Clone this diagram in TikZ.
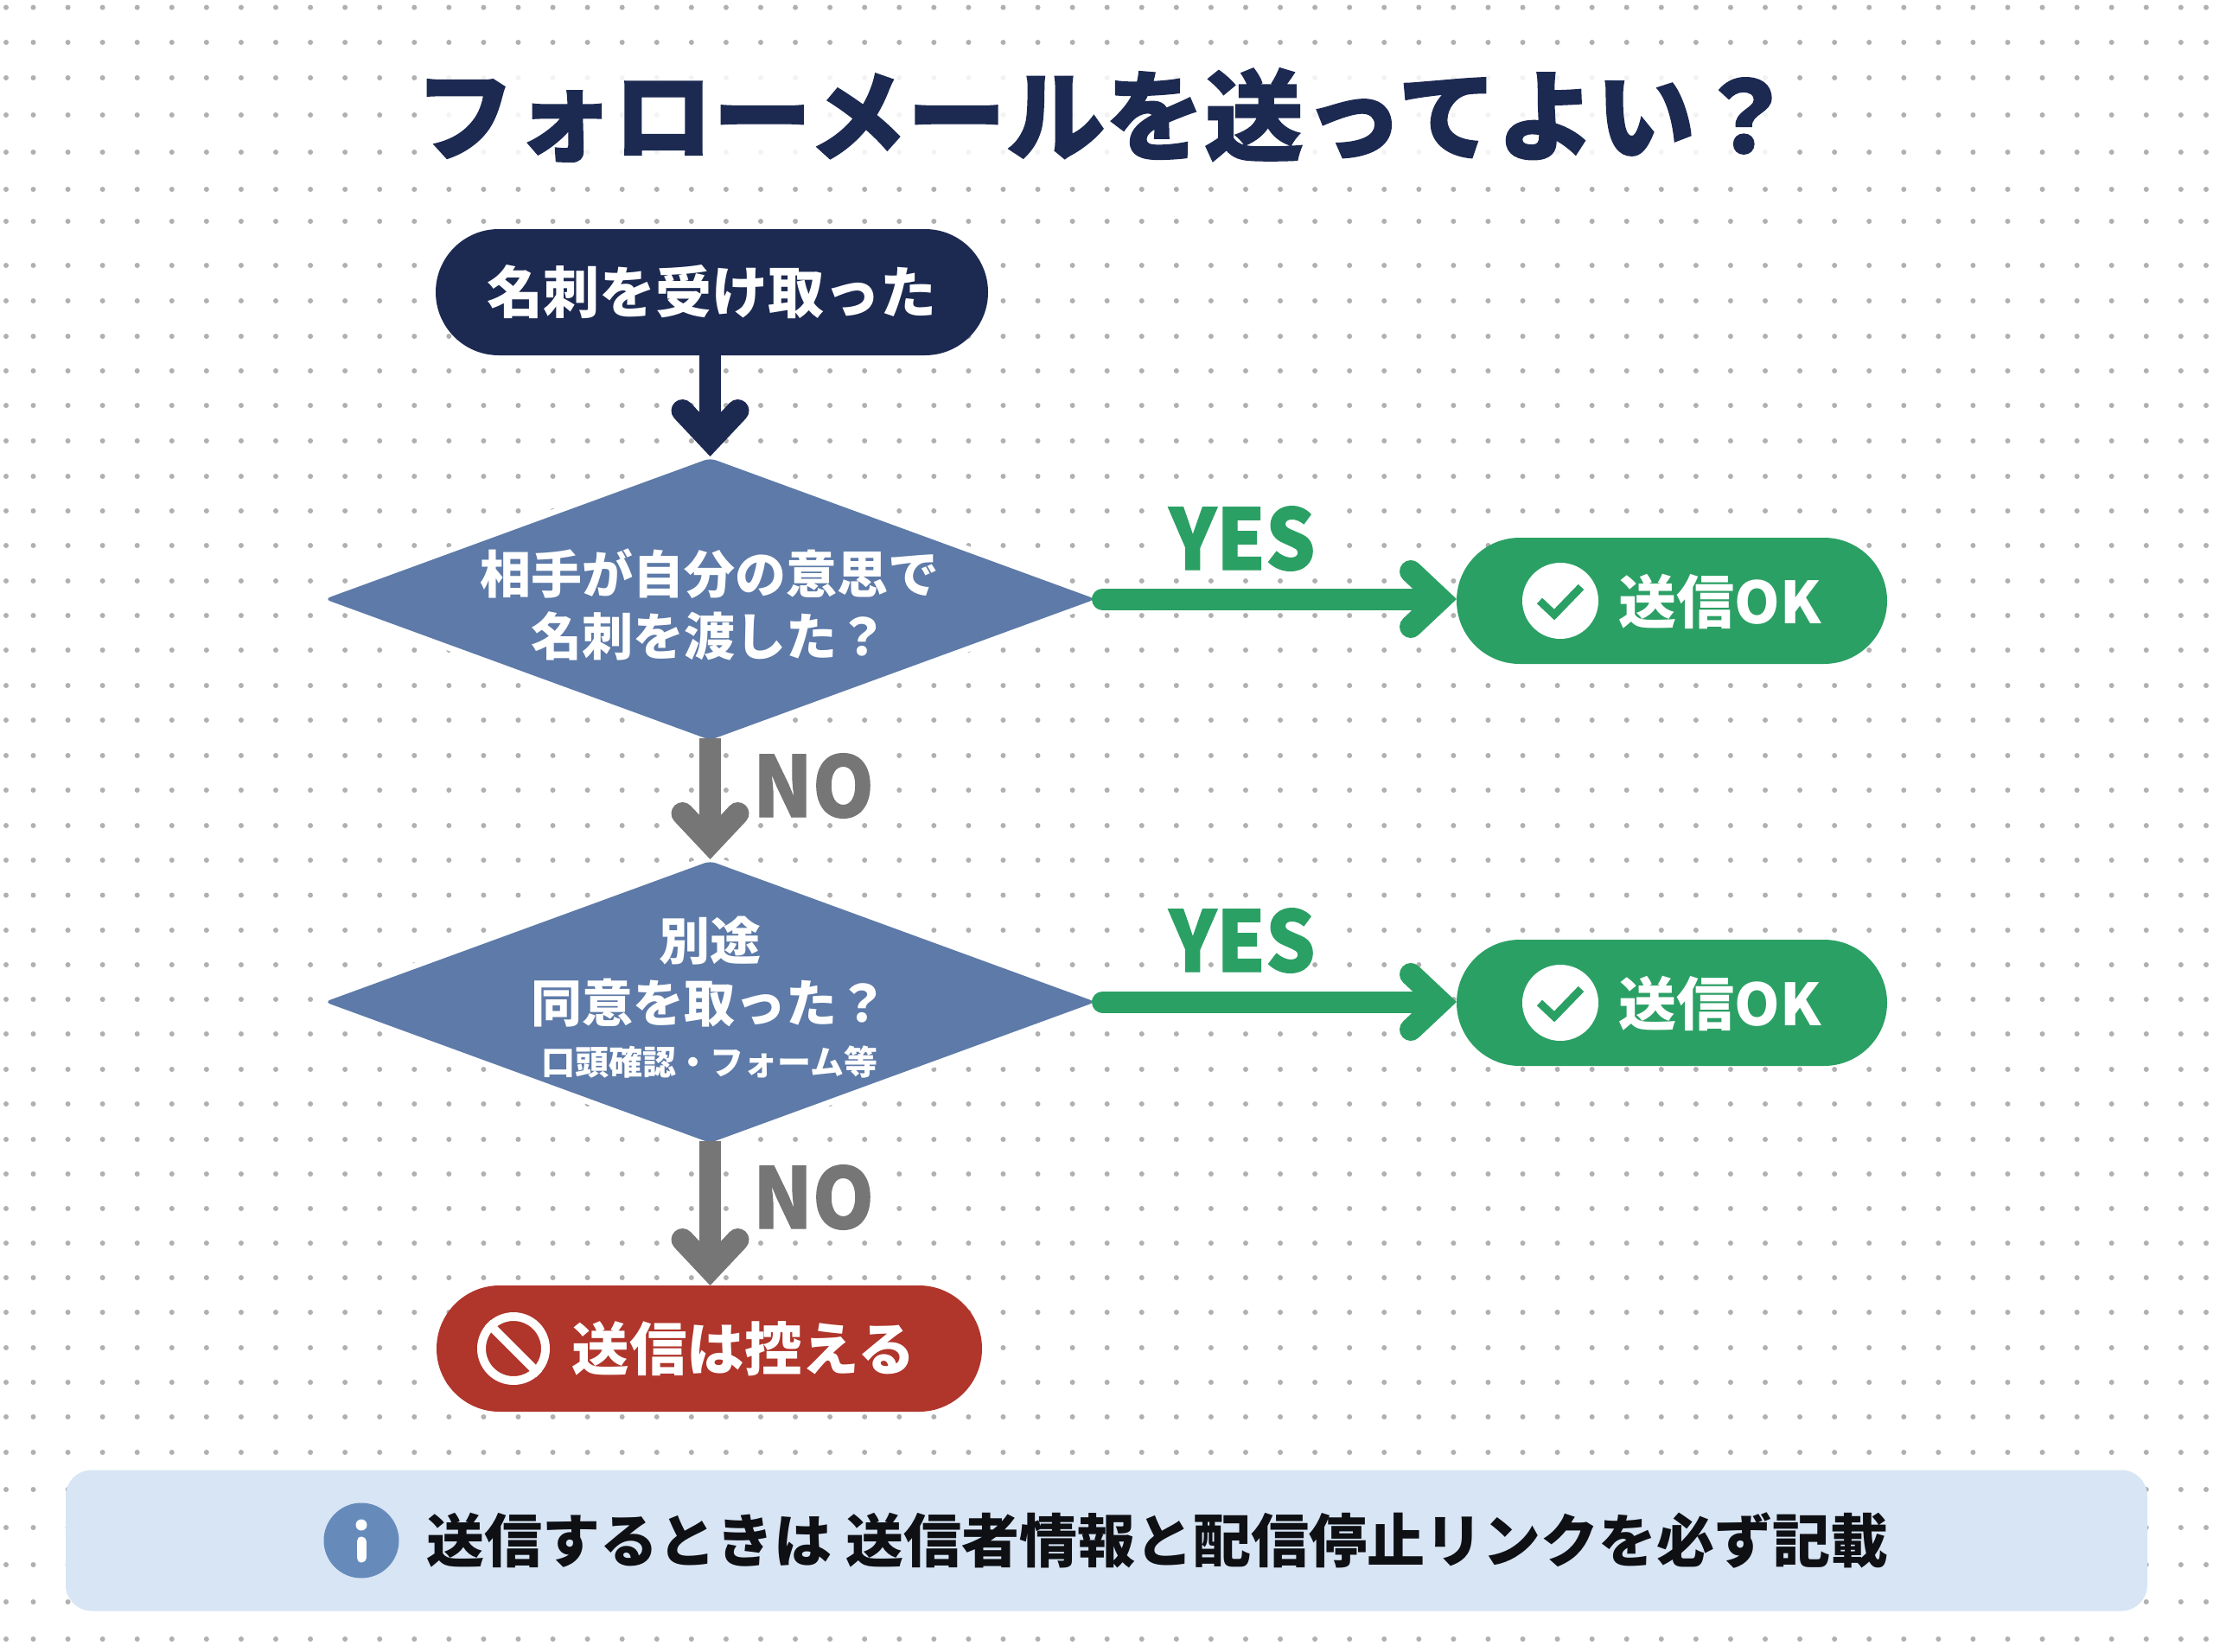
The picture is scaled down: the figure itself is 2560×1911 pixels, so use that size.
\documentclass[tikz,border=0pt]{standalone}
\usepackage{fontspec}
\usetikzlibrary{shapes.geometric,shapes.misc,arrows.meta}
\setmainfont{Noto Sans CJK JP}
\newfontfamily\heavyfont[BoldFeatures={FakeBold=1.2}]{Noto Sans CJK JP}
\newcommand{\fsz}[1]{\fontsize{#1pt}{#1pt}\selectfont\bfseries}
\definecolor{navy}{HTML}{1C2A52}
\definecolor{dia}{HTML}{5D7AA8}
\definecolor{okg}{HTML}{2BA064}
\definecolor{stopr}{HTML}{B0352B}
\definecolor{gry}{HTML}{767676}
\definecolor{band}{HTML}{D7E5F5}
\definecolor{infob}{HTML}{668BBB}
\definecolor{inkk}{HTML}{0F1014}
\definecolor{dotc}{HTML}{B0B0B0}
\pgfdeclarearrow{
  name=Chev,
  setup code={
    \pgfarrowssettipend{0pt}
    \pgfarrowssetlineend{-22pt}
    \pgfarrowssetvisualbackend{-30pt}
    \pgfarrowssetbackend{-66pt}
    \pgfarrowshullpoint{0pt}{0pt}
  },
  drawing code={
    \pgfsetdash{}{0pt}
    \pgfsetroundcap
    \pgfsetmiterjoin
    \pgfsetlinewidth{26pt}
    \pgfpathmoveto{\pgfpoint{-53pt}{32pt}}
    \pgfpathlineto{\pgfpoint{-19pt}{0pt}}
    \pgfpathlineto{\pgfpoint{-53pt}{-32pt}}
    \pgfusepathqstroke
  },
  defaults={}
}
\tikzset{
  pill/.style={rounded rectangle,inner sep=0pt,outer sep=0pt,minimum height=146pt},
  deci/.style={diamond,inner sep=0pt,outer sep=0pt,minimum width=892pt,minimum height=326pt,
    fill=dia,rounded corners=7pt,preaction={draw=white,line width=14pt}},
  wtext/.style={text=white,inner sep=0pt,outer sep=0pt},
  conn/.style={line width=25pt,-{Chev}},
  yeslab/.style={text=okg,inner sep=0pt,font=\heavyfont\fsz{97}},
  nolab/.style={text=gry,inner sep=0pt,font=\heavyfont\fsz{97}},
  chk/.style={circle,fill=white,inner sep=0pt,outer sep=0pt,minimum size=88pt},
}
\begin{document}
\begin{tikzpicture}[x=1pt,y=-1pt]
\useasboundingbox (0,0) rectangle (2560,1911);
\fill[white] (0,0) rectangle (2560,1911);
% dot grid
\foreach \yy in {8.6,49,90,133,176,219,256,307,348,389,429,469,510,551,591,631,672,712,752,793,833,874,914,955,995,1035.5,1076,1116,1156,1196,1237,1277,1318,1358,1398,1438,1478,1518,1559,1599,1639,1680,1723,1767,1810,1853,1896}{
  \fill[dotc] (7,\yy) circle[radius=3pt] (2552,\yy) circle[radius=3pt];
  \foreach \kk in {0,...,62}{
    \fill[dotc] ({38.5+40.07*\kk},\yy) circle[radius=3pt];
  }
}
% clear areas behind labels
\fill[white,opacity=.85] (485,70) rectangle (2055,195);
\fill[white] (1340,575) rectangle (1540,650);
\fill[white] (1340,1060) rectangle (1540,1095);
\fill[white] (860,860) rectangle (1020,928);
\fill[white] (860,1345) rectangle (1020,1412);

% title
\node[text=navy,inner sep=0pt] (title) at (1278,133) {\heavyfont\fsz{114.7}フォローメールを送ってよい？};

% flow nodes
\node[pill,fill=navy,minimum width=639pt] (start) at (823.5,338) {};
\node[wtext] (startt) at (823,338) {\fsz{65}名刺を受け取った};

\node[deci] (d1) at (821.5,693) {};
\node[wtext] (d1a) at (821,664) {\fsz{59}相手が自分の意思で};
\node[wtext] (d1b) at (821,736) {\fsz{59}名刺を渡した？};

\node[deci] (d2) at (821.5,1159) {};
\node[wtext] (d2a) at (821,1088) {\fsz{59}別途};
\node[wtext] (d2b) at (821,1160) {\fsz{59}同意を取った？};
\node[wtext] (d2c) at (821,1229) {\fsz{39}口頭確認・フォーム等};

\node[pill,fill=okg,minimum width=498pt] (ok1) at (1934,695) {};
\node[chk] (c1) at (1805,695) {};
\draw[okg,line width=9pt,miter limit=10] (1781,695) -- (1798,711) -- (1829,679);
\node[wtext] (ok1t) at (1990,696) {\fsz{67}送信OK};

\node[pill,fill=okg,minimum width=498pt] (ok2) at (1934,1160) {};
\node[chk] (c2) at (1805,1160) {};
\draw[okg,line width=9pt,miter limit=10] (1781,1160) -- (1798,1176) -- (1829,1144);
\node[wtext] (ok2t) at (1990,1161) {\fsz{67}送信OK};

\node[pill,fill=stopr,minimum width=631pt] (stp) at (820.5,1560) {};
\node[circle,draw=white,line width=10pt,inner sep=0pt,minimum size=74pt] (ban) at (594,1560) {};
\draw[white,line width=10pt] (ban.north west) -- (ban.south east);
\node[wtext] (stpt) at (860,1560) {\fsz{66.5}送信は控える};

% connectors
\draw[navy,conn,shorten >=2pt] (start.south -| d1.north) -- (d1.north);
\draw[gry,conn,shorten <=-2pt,shorten >=2pt] (d1.south) -- (d2.north);
\draw[gry,conn,shorten <=-2pt] (d2.south) -- (d2.south |- stp.north);
\draw[okg,conn,line cap=round,shorten <=8pt] (d1.east) -- (d1.east -| ok1.west);
\draw[okg,conn,line cap=round,shorten <=8pt] (d2.east) -- (d2.east -| ok2.west);

% connector labels
\node[yeslab] (y1) at (1437,623) {\scalebox{.93}[1]{YES}};
\node[yeslab] (y2) at (1437,1088) {\scalebox{.93}[1]{YES}};
\node[nolab] (n1) at (941,909) {\scalebox{.93}[1]{NO}};
\node[nolab] (n2) at (941,1385) {\scalebox{.93}[1]{NO}};

% note band
\node[fill=band,rounded corners=30pt,inner sep=0pt,outer sep=0pt,minimum width=2408pt,minimum height=163pt] (note) at (1280,1782) {};
\node[circle,fill=infob,inner sep=0pt,minimum size=87pt] (info) at (418,1782) {};
\fill[white] (418,1764) circle[radius=6.5pt];
\draw[white,line width=11pt,line cap=round] (418,1783) -- (418,1802);
\node[text=inkk,inner sep=0pt] (notet) at (1339,1782) {\fsz{67}送信するときは 送信者情報と配信停止リンクを必ず記載};
\end{tikzpicture}
\end{document}
